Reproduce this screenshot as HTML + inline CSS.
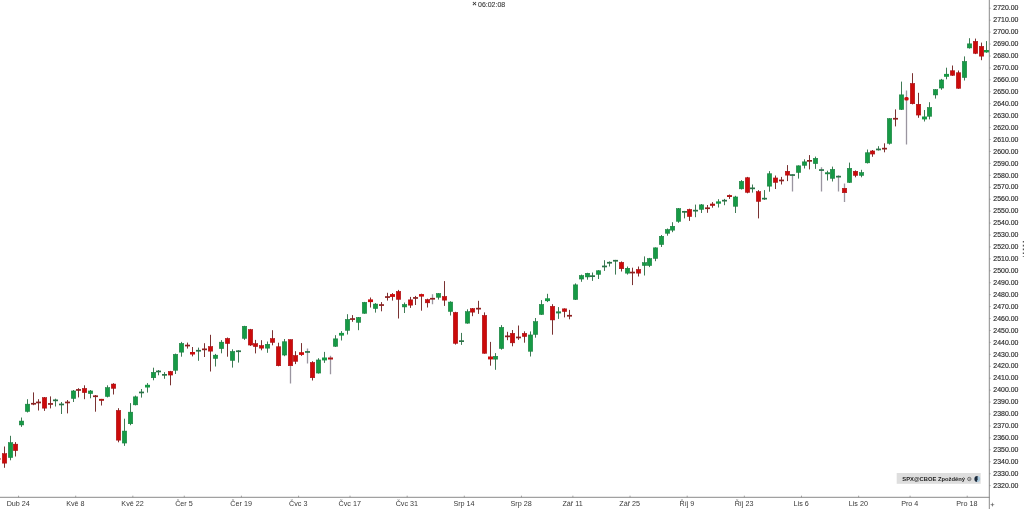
<!DOCTYPE html>
<html><head><meta charset="utf-8"><title>SPX</title>
<style>
html,body{margin:0;padding:0;background:#fff;}
body{width:1024px;height:509px;overflow:hidden;position:relative;font-family:"Liberation Sans",sans-serif;}
svg{position:absolute;left:0;top:0;display:block}
text{font-family:"Liberation Sans",sans-serif;}
.yl{font-size:7.6px;fill:#2e2e2e;stroke:#2e2e2e;stroke-width:0.18px}
.xl{font-size:7.2px;fill:#383838;text-anchor:middle}
</style></head><body>
<svg width="1024" height="509" viewBox="0 0 1024 509">
<rect width="1024" height="509" fill="#fff"/>

<g clip-path="url(#cp)">
<clipPath id="cp"><rect x="0" y="0" width="989.3" height="497.3"/></clipPath>
<line x1="4.50" y1="446.5" x2="4.50" y2="467.8" stroke="#7a3232" stroke-width="1.0"/>
<rect x="2.25" y="453.65" width="4.5" height="9.50" fill="#cc0a0a" stroke="#a30a10" stroke-width="0.5"/>
<line x1="10.50" y1="435.8" x2="10.50" y2="460.3" stroke="#3f7a55" stroke-width="1.0"/>
<rect x="8.25" y="442.65" width="4.5" height="14.90" fill="#169a45" stroke="#167a3c" stroke-width="0.5"/>
<line x1="15.50" y1="442.1" x2="15.50" y2="456.5" stroke="#7a3232" stroke-width="1.0"/>
<rect x="13.25" y="444.15" width="4.5" height="6.50" fill="#cc0a0a" stroke="#a30a10" stroke-width="0.5"/>
<line x1="21.50" y1="417.5" x2="21.50" y2="426.9" stroke="#3f7a55" stroke-width="1.0"/>
<rect x="19.25" y="421.05" width="4.5" height="3.90" fill="#169a45" stroke="#167a3c" stroke-width="0.5"/>
<line x1="27.50" y1="399.2" x2="27.50" y2="412.5" stroke="#3f7a55" stroke-width="1.0"/>
<rect x="25.25" y="404.15" width="4.5" height="7.30" fill="#169a45" stroke="#167a3c" stroke-width="0.5"/>
<line x1="33.50" y1="392.4" x2="33.50" y2="405.2" stroke="#7a3232" stroke-width="1.0"/>
<rect x="31.00" y="402.9" width="5.0" height="1.7" fill="#8e2020"/>
<line x1="38.50" y1="399.2" x2="38.50" y2="410.5" stroke="#7a3232" stroke-width="1.0"/>
<rect x="36.00" y="401.6" width="5.0" height="1.7" fill="#8e2020"/>
<line x1="44.50" y1="397.0" x2="44.50" y2="410.9" stroke="#7a3232" stroke-width="1.0"/>
<rect x="42.25" y="397.65" width="4.5" height="10.50" fill="#cc0a0a" stroke="#a30a10" stroke-width="0.5"/>
<line x1="50.50" y1="396.4" x2="50.50" y2="408.4" stroke="#7a3232" stroke-width="1.0"/>
<rect x="48.00" y="403.1" width="5.0" height="1.7" fill="#8e2020"/>
<line x1="55.50" y1="398.7" x2="55.50" y2="406.5" stroke="#3f7a55" stroke-width="1.0"/>
<rect x="53.00" y="399.5" width="5.0" height="1.7" fill="#2a7347"/>
<line x1="61.50" y1="402.0" x2="61.50" y2="414.0" stroke="#3f7a55" stroke-width="1.0"/>
<rect x="59.00" y="403.6" width="5.0" height="1.7" fill="#2a7347"/>
<line x1="67.50" y1="400.0" x2="67.50" y2="413.4" stroke="#7a3232" stroke-width="1.0"/>
<rect x="65.00" y="401.6" width="5.0" height="1.7" fill="#8e2020"/>
<line x1="73.50" y1="390.0" x2="73.50" y2="402.0" stroke="#3f7a55" stroke-width="1.0"/>
<rect x="71.25" y="390.95" width="4.5" height="7.50" fill="#169a45" stroke="#167a3c" stroke-width="0.5"/>
<line x1="78.50" y1="388.2" x2="78.50" y2="397.4" stroke="#7a3232" stroke-width="1.0"/>
<rect x="76.00" y="389.1" width="5.0" height="1.7" fill="#8e2020"/>
<line x1="84.50" y1="385.3" x2="84.50" y2="399.2" stroke="#7a3232" stroke-width="1.0"/>
<rect x="82.25" y="388.45" width="4.5" height="4.20" fill="#cc0a0a" stroke="#a30a10" stroke-width="0.5"/>
<line x1="90.50" y1="390.0" x2="90.50" y2="398.3" stroke="#3f7a55" stroke-width="1.0"/>
<rect x="88.25" y="390.95" width="4.5" height="2.70" fill="#169a45" stroke="#167a3c" stroke-width="0.5"/>
<line x1="95.50" y1="395.0" x2="95.50" y2="411.7" stroke="#7a3232" stroke-width="1.0"/>
<rect x="93.00" y="395.4" width="5.0" height="1.7" fill="#8e2020"/>
<line x1="101.50" y1="398.9" x2="101.50" y2="405.5" stroke="#7a3232" stroke-width="1.0"/>
<rect x="99.00" y="398.9" width="5.0" height="1.9" fill="#b01414"/>
<line x1="107.50" y1="385.3" x2="107.50" y2="397.4" stroke="#3f7a55" stroke-width="1.0"/>
<rect x="105.25" y="387.65" width="4.5" height="8.80" fill="#169a45" stroke="#167a3c" stroke-width="0.5"/>
<line x1="113.50" y1="383.2" x2="113.50" y2="394.5" stroke="#7a3232" stroke-width="1.0"/>
<rect x="111.25" y="384.05" width="4.5" height="4.30" fill="#cc0a0a" stroke="#a30a10" stroke-width="0.5"/>
<line x1="118.50" y1="408.2" x2="118.50" y2="442.3" stroke="#7a3232" stroke-width="1.0"/>
<rect x="116.25" y="410.45" width="4.5" height="29.70" fill="#cc0a0a" stroke="#a30a10" stroke-width="0.5"/>
<line x1="124.50" y1="418.7" x2="124.50" y2="445.9" stroke="#3f7a55" stroke-width="1.0"/>
<rect x="122.25" y="431.05" width="4.5" height="12.00" fill="#169a45" stroke="#167a3c" stroke-width="0.5"/>
<line x1="130.50" y1="403.1" x2="130.50" y2="425.2" stroke="#3f7a55" stroke-width="1.0"/>
<rect x="128.25" y="412.15" width="4.5" height="11.60" fill="#169a45" stroke="#167a3c" stroke-width="0.5"/>
<line x1="135.50" y1="395.6" x2="135.50" y2="405.4" stroke="#3f7a55" stroke-width="1.0"/>
<rect x="133.25" y="396.85" width="4.5" height="8.00" fill="#169a45" stroke="#167a3c" stroke-width="0.5"/>
<line x1="141.50" y1="389.0" x2="141.50" y2="397.6" stroke="#3f7a55" stroke-width="1.0"/>
<rect x="139.00" y="391.6" width="5.0" height="1.7" fill="#2a7347"/>
<line x1="147.50" y1="383.1" x2="147.50" y2="392.6" stroke="#3f7a55" stroke-width="1.0"/>
<rect x="145.00" y="384.8" width="5.0" height="2.7" fill="#169a45"/>
<line x1="153.50" y1="367.7" x2="153.50" y2="380.3" stroke="#3f7a55" stroke-width="1.0"/>
<rect x="151.25" y="372.35" width="4.5" height="5.40" fill="#169a45" stroke="#167a3c" stroke-width="0.5"/>
<line x1="158.50" y1="370.0" x2="158.50" y2="375.3" stroke="#3f7a55" stroke-width="1.0"/>
<rect x="156.00" y="370.6" width="5.0" height="1.7" fill="#2a7347"/>
<line x1="164.50" y1="372.1" x2="164.50" y2="378.8" stroke="#3f7a55" stroke-width="1.0"/>
<rect x="162.00" y="374.0" width="5.0" height="1.7" fill="#2a7347"/>
<line x1="170.50" y1="370.9" x2="170.50" y2="385.3" stroke="#7a3232" stroke-width="1.0"/>
<rect x="168.25" y="371.45" width="4.5" height="3.60" fill="#cc0a0a" stroke="#a30a10" stroke-width="0.5"/>
<line x1="175.50" y1="353.6" x2="175.50" y2="374.0" stroke="#3f7a55" stroke-width="1.0"/>
<rect x="173.25" y="354.35" width="4.5" height="15.90" fill="#169a45" stroke="#167a3c" stroke-width="0.5"/>
<line x1="181.50" y1="341.9" x2="181.50" y2="356.7" stroke="#3f7a55" stroke-width="1.0"/>
<rect x="179.25" y="343.45" width="4.5" height="8.70" fill="#169a45" stroke="#167a3c" stroke-width="0.5"/>
<line x1="187.50" y1="342.6" x2="187.50" y2="348.6" stroke="#7a3232" stroke-width="1.0"/>
<rect x="185.00" y="344.7" width="5.0" height="1.7" fill="#8e2020"/>
<line x1="192.50" y1="347.0" x2="192.50" y2="356.4" stroke="#7a3232" stroke-width="1.0"/>
<rect x="190.00" y="352.0" width="5.0" height="2.5" fill="#cc0a0a"/>
<line x1="198.50" y1="347.6" x2="198.50" y2="360.8" stroke="#3f7a55" stroke-width="1.0"/>
<rect x="196.00" y="349.9" width="5.0" height="1.7" fill="#2a7347"/>
<line x1="204.50" y1="343.2" x2="204.50" y2="357.0" stroke="#7a3232" stroke-width="1.0"/>
<rect x="202.00" y="348.5" width="5.0" height="1.7" fill="#8e2020"/>
<line x1="210.50" y1="334.8" x2="210.50" y2="371.5" stroke="#7a3232" stroke-width="1.0"/>
<rect x="208.25" y="346.55" width="4.5" height="4.60" fill="#cc0a0a" stroke="#a30a10" stroke-width="0.5"/>
<line x1="215.50" y1="353.9" x2="215.50" y2="366.5" stroke="#3f7a55" stroke-width="1.0"/>
<rect x="213.25" y="355.15" width="4.5" height="3.30" fill="#169a45" stroke="#167a3c" stroke-width="0.5"/>
<line x1="221.50" y1="340.1" x2="221.50" y2="353.3" stroke="#3f7a55" stroke-width="1.0"/>
<rect x="219.25" y="342.15" width="4.5" height="6.50" fill="#169a45" stroke="#167a3c" stroke-width="0.5"/>
<line x1="227.50" y1="337.5" x2="227.50" y2="356.7" stroke="#7a3232" stroke-width="1.0"/>
<rect x="225.25" y="338.45" width="4.5" height="5.10" fill="#cc0a0a" stroke="#a30a10" stroke-width="0.5"/>
<line x1="232.50" y1="349.3" x2="232.50" y2="367.6" stroke="#3f7a55" stroke-width="1.0"/>
<rect x="230.25" y="351.45" width="4.5" height="9.00" fill="#169a45" stroke="#167a3c" stroke-width="0.5"/>
<line x1="238.50" y1="350.2" x2="238.50" y2="362.6" stroke="#3f7a55" stroke-width="1.0"/>
<rect x="236.00" y="350.4" width="5.0" height="1.7" fill="#2a7347"/>
<line x1="244.50" y1="325.8" x2="244.50" y2="339.9" stroke="#3f7a55" stroke-width="1.0"/>
<rect x="242.25" y="326.25" width="4.5" height="12.10" fill="#169a45" stroke="#167a3c" stroke-width="0.5"/>
<line x1="250.50" y1="328.9" x2="250.50" y2="345.9" stroke="#7a3232" stroke-width="1.0"/>
<rect x="248.25" y="329.55" width="4.5" height="15.50" fill="#cc0a0a" stroke="#a30a10" stroke-width="0.5"/>
<line x1="255.50" y1="339.9" x2="255.50" y2="353.4" stroke="#7a3232" stroke-width="1.0"/>
<rect x="253.25" y="343.65" width="4.5" height="3.00" fill="#cc0a0a" stroke="#a30a10" stroke-width="0.5"/>
<line x1="261.50" y1="340.2" x2="261.50" y2="350.3" stroke="#7a3232" stroke-width="1.0"/>
<rect x="259.25" y="345.55" width="4.5" height="2.60" fill="#cc0a0a" stroke="#a30a10" stroke-width="0.5"/>
<line x1="267.50" y1="341.5" x2="267.50" y2="352.8" stroke="#3f7a55" stroke-width="1.0"/>
<rect x="265.25" y="344.25" width="4.5" height="3.90" fill="#169a45" stroke="#167a3c" stroke-width="0.5"/>
<line x1="272.50" y1="330.2" x2="272.50" y2="345.3" stroke="#7a3232" stroke-width="1.0"/>
<rect x="270.25" y="338.55" width="4.5" height="3.90" fill="#cc0a0a" stroke="#a30a10" stroke-width="0.5"/>
<line x1="278.50" y1="342.7" x2="278.50" y2="366.3" stroke="#7a3232" stroke-width="1.0"/>
<rect x="276.25" y="346.75" width="4.5" height="19.00" fill="#cc0a0a" stroke="#a30a10" stroke-width="0.5"/>
<line x1="284.50" y1="339.0" x2="284.50" y2="356.2" stroke="#3f7a55" stroke-width="1.0"/>
<rect x="282.25" y="341.75" width="4.5" height="13.30" fill="#169a45" stroke="#167a3c" stroke-width="0.5"/>
<line x1="290.50" y1="339.0" x2="290.50" y2="383.6" stroke="#9a95a0" stroke-width="1.3"/>
<rect x="288.25" y="339.65" width="4.5" height="26.10" fill="#cc0a0a" stroke="#a30a10" stroke-width="0.5"/>
<line x1="295.50" y1="351.2" x2="295.50" y2="364.1" stroke="#7a3232" stroke-width="1.0"/>
<rect x="293.25" y="355.55" width="4.5" height="5.80" fill="#cc0a0a" stroke="#a30a10" stroke-width="0.5"/>
<line x1="301.50" y1="343.1" x2="301.50" y2="355.9" stroke="#7a3232" stroke-width="1.0"/>
<rect x="299.00" y="352.2" width="5.0" height="2.7" fill="#cc0a0a"/>
<line x1="307.50" y1="348.4" x2="307.50" y2="363.5" stroke="#9a95a0" stroke-width="1.3"/>
<rect x="305.00" y="351.1" width="5.0" height="1.7" fill="#2a7347"/>
<line x1="312.50" y1="361.2" x2="312.50" y2="380.5" stroke="#7a3232" stroke-width="1.0"/>
<rect x="310.25" y="362.45" width="4.5" height="15.30" fill="#cc0a0a" stroke="#a30a10" stroke-width="0.5"/>
<line x1="318.50" y1="358.2" x2="318.50" y2="373.6" stroke="#3f7a55" stroke-width="1.0"/>
<rect x="316.25" y="359.95" width="4.5" height="13.10" fill="#169a45" stroke="#167a3c" stroke-width="0.5"/>
<line x1="324.50" y1="351.9" x2="324.50" y2="362.9" stroke="#3f7a55" stroke-width="1.0"/>
<rect x="322.00" y="357.5" width="5.0" height="2.9" fill="#169a45"/>
<line x1="330.50" y1="355.7" x2="330.50" y2="374.2" stroke="#9a95a0" stroke-width="1.3"/>
<rect x="328.00" y="357.5" width="5.0" height="2.0" fill="#b01414"/>
<line x1="335.50" y1="335.2" x2="335.50" y2="346.9" stroke="#3f7a55" stroke-width="1.0"/>
<rect x="333.25" y="338.85" width="4.5" height="7.40" fill="#169a45" stroke="#167a3c" stroke-width="0.5"/>
<line x1="341.50" y1="331.1" x2="341.50" y2="340.5" stroke="#3f7a55" stroke-width="1.0"/>
<rect x="339.00" y="332.9" width="5.0" height="2.7" fill="#169a45"/>
<line x1="347.50" y1="314.2" x2="347.50" y2="334.5" stroke="#3f7a55" stroke-width="1.0"/>
<rect x="345.25" y="319.45" width="4.5" height="10.90" fill="#169a45" stroke="#167a3c" stroke-width="0.5"/>
<line x1="352.50" y1="315.1" x2="352.50" y2="321.8" stroke="#7a3232" stroke-width="1.0"/>
<rect x="350.00" y="318.2" width="5.0" height="1.7" fill="#8e2020"/>
<line x1="358.50" y1="317.0" x2="358.50" y2="330.2" stroke="#3f7a55" stroke-width="1.0"/>
<rect x="356.25" y="317.45" width="4.5" height="4.90" fill="#169a45" stroke="#167a3c" stroke-width="0.5"/>
<line x1="364.50" y1="301.9" x2="364.50" y2="313.8" stroke="#3f7a55" stroke-width="1.0"/>
<rect x="362.25" y="302.35" width="4.5" height="10.90" fill="#169a45" stroke="#167a3c" stroke-width="0.5"/>
<line x1="370.50" y1="297.5" x2="370.50" y2="307.5" stroke="#7a3232" stroke-width="1.0"/>
<rect x="368.00" y="299.4" width="5.0" height="2.7" fill="#cc0a0a"/>
<line x1="375.50" y1="303.1" x2="375.50" y2="312.6" stroke="#3f7a55" stroke-width="1.0"/>
<rect x="373.25" y="304.05" width="4.5" height="4.50" fill="#169a45" stroke="#167a3c" stroke-width="0.5"/>
<line x1="381.50" y1="302.1" x2="381.50" y2="311.3" stroke="#7a3232" stroke-width="1.0"/>
<rect x="379.00" y="304.2" width="5.0" height="1.7" fill="#8e2020"/>
<line x1="387.50" y1="292.8" x2="387.50" y2="300.6" stroke="#7a3232" stroke-width="1.0"/>
<rect x="385.00" y="296.2" width="5.0" height="1.7" fill="#8e2020"/>
<line x1="392.50" y1="293.1" x2="392.50" y2="300.6" stroke="#7a3232" stroke-width="1.0"/>
<rect x="390.00" y="294.1" width="5.0" height="2.8" fill="#cc0a0a"/>
<line x1="398.50" y1="289.9" x2="398.50" y2="318.5" stroke="#7a3232" stroke-width="1.0"/>
<rect x="396.25" y="291.45" width="4.5" height="7.90" fill="#cc0a0a" stroke="#a30a10" stroke-width="0.5"/>
<line x1="404.50" y1="302.5" x2="404.50" y2="313.0" stroke="#3f7a55" stroke-width="1.0"/>
<rect x="402.25" y="304.45" width="4.5" height="2.50" fill="#169a45" stroke="#167a3c" stroke-width="0.5"/>
<line x1="410.50" y1="296.9" x2="410.50" y2="307.9" stroke="#7a3232" stroke-width="1.0"/>
<rect x="408.25" y="299.85" width="4.5" height="5.30" fill="#cc0a0a" stroke="#a30a10" stroke-width="0.5"/>
<line x1="415.50" y1="295.9" x2="415.50" y2="305.0" stroke="#7a3232" stroke-width="1.0"/>
<rect x="413.00" y="297.1" width="5.0" height="1.7" fill="#8e2020"/>
<line x1="421.50" y1="293.7" x2="421.50" y2="310.7" stroke="#7a3232" stroke-width="1.0"/>
<rect x="419.00" y="294.1" width="5.0" height="2.5" fill="#cc0a0a"/>
<line x1="427.50" y1="298.7" x2="427.50" y2="307.5" stroke="#7a3232" stroke-width="1.0"/>
<rect x="425.25" y="299.65" width="4.5" height="3.20" fill="#cc0a0a" stroke="#a30a10" stroke-width="0.5"/>
<line x1="432.50" y1="294.3" x2="432.50" y2="304.2" stroke="#9a95a0" stroke-width="1.3"/>
<rect x="430.00" y="297.9" width="5.0" height="1.7" fill="#8e2020"/>
<line x1="438.50" y1="293.1" x2="438.50" y2="299.6" stroke="#3f7a55" stroke-width="1.0"/>
<rect x="436.25" y="293.55" width="4.5" height="3.70" fill="#169a45" stroke="#167a3c" stroke-width="0.5"/>
<line x1="444.50" y1="281.1" x2="444.50" y2="305.9" stroke="#7a3232" stroke-width="1.0"/>
<rect x="442.25" y="296.45" width="4.5" height="3.70" fill="#cc0a0a" stroke="#a30a10" stroke-width="0.5"/>
<line x1="450.50" y1="301.3" x2="450.50" y2="315.5" stroke="#3f7a55" stroke-width="1.0"/>
<rect x="448.25" y="302.05" width="4.5" height="9.40" fill="#169a45" stroke="#167a3c" stroke-width="0.5"/>
<line x1="455.50" y1="311.8" x2="455.50" y2="344.6" stroke="#7a3232" stroke-width="1.0"/>
<rect x="453.25" y="312.45" width="4.5" height="30.90" fill="#cc0a0a" stroke="#a30a10" stroke-width="0.5"/>
<line x1="461.50" y1="332.9" x2="461.50" y2="344.9" stroke="#3f7a55" stroke-width="1.0"/>
<rect x="459.00" y="340.3" width="5.0" height="1.7" fill="#2a7347"/>
<line x1="467.50" y1="309.3" x2="467.50" y2="323.7" stroke="#3f7a55" stroke-width="1.0"/>
<rect x="465.25" y="311.65" width="4.5" height="11.50" fill="#169a45" stroke="#167a3c" stroke-width="0.5"/>
<line x1="472.50" y1="308.0" x2="472.50" y2="316.2" stroke="#7a3232" stroke-width="1.0"/>
<rect x="470.25" y="308.65" width="4.5" height="3.50" fill="#cc0a0a" stroke="#a30a10" stroke-width="0.5"/>
<line x1="478.50" y1="300.8" x2="478.50" y2="313.9" stroke="#7a3232" stroke-width="1.0"/>
<rect x="476.00" y="307.8" width="5.0" height="1.7" fill="#8e2020"/>
<line x1="484.50" y1="312.4" x2="484.50" y2="353.7" stroke="#7a3232" stroke-width="1.0"/>
<rect x="482.25" y="315.45" width="4.5" height="37.80" fill="#cc0a0a" stroke="#a30a10" stroke-width="0.5"/>
<line x1="490.50" y1="341.9" x2="490.50" y2="365.7" stroke="#7a3232" stroke-width="1.0"/>
<rect x="488.00" y="356.5" width="5.0" height="2.9" fill="#cc0a0a"/>
<line x1="495.50" y1="353.1" x2="495.50" y2="369.8" stroke="#3f7a55" stroke-width="1.0"/>
<rect x="493.25" y="356.25" width="4.5" height="2.90" fill="#169a45" stroke="#167a3c" stroke-width="0.5"/>
<line x1="501.50" y1="325.1" x2="501.50" y2="349.7" stroke="#3f7a55" stroke-width="1.0"/>
<rect x="499.25" y="327.35" width="4.5" height="21.20" fill="#169a45" stroke="#167a3c" stroke-width="0.5"/>
<line x1="507.50" y1="331.8" x2="507.50" y2="340.2" stroke="#7a3232" stroke-width="1.0"/>
<rect x="505.00" y="335.5" width="5.0" height="1.7" fill="#8e2020"/>
<line x1="512.50" y1="330.0" x2="512.50" y2="346.3" stroke="#7a3232" stroke-width="1.0"/>
<rect x="510.25" y="333.35" width="4.5" height="9.50" fill="#cc0a0a" stroke="#a30a10" stroke-width="0.5"/>
<line x1="518.50" y1="325.5" x2="518.50" y2="339.9" stroke="#7a3232" stroke-width="1.0"/>
<rect x="516.00" y="336.6" width="5.0" height="1.7" fill="#8e2020"/>
<line x1="524.50" y1="331.3" x2="524.50" y2="342.7" stroke="#7a3232" stroke-width="1.0"/>
<rect x="522.25" y="333.35" width="4.5" height="3.20" fill="#cc0a0a" stroke="#a30a10" stroke-width="0.5"/>
<line x1="530.50" y1="331.4" x2="530.50" y2="356.5" stroke="#3f7a55" stroke-width="1.0"/>
<rect x="528.25" y="334.95" width="4.5" height="16.30" fill="#169a45" stroke="#167a3c" stroke-width="0.5"/>
<line x1="535.50" y1="318.0" x2="535.50" y2="337.7" stroke="#3f7a55" stroke-width="1.0"/>
<rect x="533.25" y="321.65" width="4.5" height="12.80" fill="#169a45" stroke="#167a3c" stroke-width="0.5"/>
<line x1="541.50" y1="300.1" x2="541.50" y2="314.9" stroke="#3f7a55" stroke-width="1.0"/>
<rect x="539.25" y="304.45" width="4.5" height="10.00" fill="#169a45" stroke="#167a3c" stroke-width="0.5"/>
<line x1="547.50" y1="293.8" x2="547.50" y2="302.1" stroke="#3f7a55" stroke-width="1.0"/>
<rect x="545.00" y="298.3" width="5.0" height="2.8" fill="#169a45"/>
<line x1="552.50" y1="304.2" x2="552.50" y2="334.7" stroke="#7a3232" stroke-width="1.0"/>
<rect x="550.25" y="306.35" width="4.5" height="13.60" fill="#cc0a0a" stroke="#a30a10" stroke-width="0.5"/>
<line x1="558.50" y1="307.1" x2="558.50" y2="318.9" stroke="#3f7a55" stroke-width="1.0"/>
<rect x="556.00" y="311.4" width="5.0" height="2.0" fill="#238a48"/>
<line x1="564.50" y1="308.4" x2="564.50" y2="317.4" stroke="#7a3232" stroke-width="1.0"/>
<rect x="562.25" y="308.85" width="4.5" height="2.70" fill="#cc0a0a" stroke="#a30a10" stroke-width="0.5"/>
<line x1="569.50" y1="309.9" x2="569.50" y2="319.3" stroke="#7a3232" stroke-width="1.0"/>
<rect x="567.00" y="314.9" width="5.0" height="1.7" fill="#8e2020"/>
<line x1="575.50" y1="283.4" x2="575.50" y2="300.0" stroke="#3f7a55" stroke-width="1.0"/>
<rect x="573.25" y="284.85" width="4.5" height="14.60" fill="#169a45" stroke="#167a3c" stroke-width="0.5"/>
<line x1="581.50" y1="274.6" x2="581.50" y2="281.8" stroke="#3f7a55" stroke-width="1.0"/>
<rect x="579.25" y="275.55" width="4.5" height="3.50" fill="#169a45" stroke="#167a3c" stroke-width="0.5"/>
<line x1="587.50" y1="272.8" x2="587.50" y2="279.7" stroke="#3f7a55" stroke-width="1.0"/>
<rect x="585.25" y="273.25" width="4.5" height="3.70" fill="#169a45" stroke="#167a3c" stroke-width="0.5"/>
<line x1="592.50" y1="272.5" x2="592.50" y2="280.9" stroke="#3f7a55" stroke-width="1.0"/>
<rect x="590.00" y="275.3" width="5.0" height="1.7" fill="#2a7347"/>
<line x1="598.50" y1="270.2" x2="598.50" y2="279.0" stroke="#3f7a55" stroke-width="1.0"/>
<rect x="596.25" y="270.75" width="4.5" height="3.60" fill="#169a45" stroke="#167a3c" stroke-width="0.5"/>
<line x1="604.50" y1="260.2" x2="604.50" y2="270.9" stroke="#3f7a55" stroke-width="1.0"/>
<rect x="602.00" y="265.6" width="5.0" height="1.7" fill="#2a7347"/>
<line x1="609.50" y1="261.4" x2="609.50" y2="266.5" stroke="#3f7a55" stroke-width="1.0"/>
<rect x="607.00" y="261.9" width="5.0" height="1.7" fill="#2a7347"/>
<line x1="615.50" y1="259.9" x2="615.50" y2="274.6" stroke="#3f7a55" stroke-width="1.0"/>
<rect x="613.00" y="259.9" width="5.0" height="1.7" fill="#2a7347"/>
<line x1="621.50" y1="261.4" x2="621.50" y2="271.5" stroke="#7a3232" stroke-width="1.0"/>
<rect x="619.25" y="262.35" width="4.5" height="6.40" fill="#cc0a0a" stroke="#a30a10" stroke-width="0.5"/>
<line x1="627.50" y1="266.5" x2="627.50" y2="274.6" stroke="#3f7a55" stroke-width="1.0"/>
<rect x="625.25" y="268.25" width="4.5" height="4.90" fill="#169a45" stroke="#167a3c" stroke-width="0.5"/>
<line x1="632.50" y1="267.7" x2="632.50" y2="285.1" stroke="#7a3232" stroke-width="1.0"/>
<rect x="630.00" y="271.7" width="5.0" height="1.7" fill="#8e2020"/>
<line x1="638.50" y1="266.5" x2="638.50" y2="276.5" stroke="#7a3232" stroke-width="1.0"/>
<rect x="636.25" y="269.45" width="4.5" height="3.70" fill="#cc0a0a" stroke="#a30a10" stroke-width="0.5"/>
<line x1="644.50" y1="256.4" x2="644.50" y2="275.5" stroke="#3f7a55" stroke-width="1.0"/>
<rect x="642.25" y="262.65" width="4.5" height="2.90" fill="#169a45" stroke="#167a3c" stroke-width="0.5"/>
<line x1="649.50" y1="257.9" x2="649.50" y2="267.1" stroke="#3f7a55" stroke-width="1.0"/>
<rect x="647.25" y="258.55" width="4.5" height="7.00" fill="#169a45" stroke="#167a3c" stroke-width="0.5"/>
<line x1="655.50" y1="247.4" x2="655.50" y2="261.2" stroke="#3f7a55" stroke-width="1.0"/>
<rect x="653.25" y="247.85" width="4.5" height="10.60" fill="#169a45" stroke="#167a3c" stroke-width="0.5"/>
<line x1="661.50" y1="235.0" x2="661.50" y2="247.0" stroke="#3f7a55" stroke-width="1.0"/>
<rect x="659.25" y="236.25" width="4.5" height="8.30" fill="#169a45" stroke="#167a3c" stroke-width="0.5"/>
<line x1="667.50" y1="228.5" x2="667.50" y2="235.7" stroke="#3f7a55" stroke-width="1.0"/>
<rect x="665.25" y="229.55" width="4.5" height="3.70" fill="#169a45" stroke="#167a3c" stroke-width="0.5"/>
<line x1="672.50" y1="222.2" x2="672.50" y2="232.2" stroke="#3f7a55" stroke-width="1.0"/>
<rect x="670.25" y="226.25" width="4.5" height="3.90" fill="#169a45" stroke="#167a3c" stroke-width="0.5"/>
<line x1="678.50" y1="208.0" x2="678.50" y2="222.8" stroke="#3f7a55" stroke-width="1.0"/>
<rect x="676.25" y="208.65" width="4.5" height="12.70" fill="#169a45" stroke="#167a3c" stroke-width="0.5"/>
<line x1="684.50" y1="210.9" x2="684.50" y2="218.4" stroke="#3f7a55" stroke-width="1.0"/>
<rect x="682.00" y="211.0" width="5.0" height="1.7" fill="#2a7347"/>
<line x1="689.50" y1="208.7" x2="689.50" y2="220.9" stroke="#7a3232" stroke-width="1.0"/>
<rect x="687.25" y="209.45" width="4.5" height="7.10" fill="#cc0a0a" stroke="#a30a10" stroke-width="0.5"/>
<line x1="695.50" y1="204.6" x2="695.50" y2="217.2" stroke="#3f7a55" stroke-width="1.0"/>
<rect x="693.00" y="209.8" width="5.0" height="1.7" fill="#2a7347"/>
<line x1="701.50" y1="204.0" x2="701.50" y2="213.0" stroke="#3f7a55" stroke-width="1.0"/>
<rect x="699.25" y="204.85" width="4.5" height="4.50" fill="#169a45" stroke="#167a3c" stroke-width="0.5"/>
<line x1="707.50" y1="205.0" x2="707.50" y2="212.8" stroke="#7a3232" stroke-width="1.0"/>
<rect x="705.00" y="207.4" width="5.0" height="1.7" fill="#8e2020"/>
<line x1="712.50" y1="202.1" x2="712.50" y2="207.7" stroke="#7a3232" stroke-width="1.0"/>
<rect x="710.00" y="203.7" width="5.0" height="2.1" fill="#b01414"/>
<line x1="718.50" y1="199.2" x2="718.50" y2="207.5" stroke="#3f7a55" stroke-width="1.0"/>
<rect x="716.00" y="201.4" width="5.0" height="2.3" fill="#169a45"/>
<line x1="724.50" y1="198.9" x2="724.50" y2="205.2" stroke="#3f7a55" stroke-width="1.0"/>
<rect x="722.00" y="199.8" width="5.0" height="1.7" fill="#2a7347"/>
<line x1="729.50" y1="194.5" x2="729.50" y2="198.9" stroke="#7a3232" stroke-width="1.0"/>
<rect x="727.00" y="195.1" width="5.0" height="1.9" fill="#b01414"/>
<line x1="735.50" y1="195.8" x2="735.50" y2="213.0" stroke="#3f7a55" stroke-width="1.0"/>
<rect x="733.25" y="196.95" width="4.5" height="9.30" fill="#169a45" stroke="#167a3c" stroke-width="0.5"/>
<line x1="741.50" y1="180.1" x2="741.50" y2="189.5" stroke="#3f7a55" stroke-width="1.0"/>
<rect x="739.25" y="181.35" width="4.5" height="7.50" fill="#169a45" stroke="#167a3c" stroke-width="0.5"/>
<line x1="747.50" y1="176.9" x2="747.50" y2="193.3" stroke="#7a3232" stroke-width="1.0"/>
<rect x="745.25" y="177.75" width="4.5" height="14.60" fill="#cc0a0a" stroke="#a30a10" stroke-width="0.5"/>
<line x1="752.50" y1="184.5" x2="752.50" y2="192.6" stroke="#3f7a55" stroke-width="1.0"/>
<rect x="750.00" y="187.5" width="5.0" height="1.7" fill="#2a7347"/>
<line x1="758.50" y1="190.1" x2="758.50" y2="218.4" stroke="#7a3232" stroke-width="1.0"/>
<rect x="756.25" y="191.65" width="4.5" height="9.80" fill="#cc0a0a" stroke="#a30a10" stroke-width="0.5"/>
<line x1="764.50" y1="190.1" x2="764.50" y2="199.9" stroke="#3f7a55" stroke-width="1.0"/>
<rect x="762.00" y="197.8" width="5.0" height="1.7" fill="#2a7347"/>
<line x1="769.50" y1="171.1" x2="769.50" y2="191.7" stroke="#3f7a55" stroke-width="1.0"/>
<rect x="767.25" y="173.75" width="4.5" height="12.40" fill="#169a45" stroke="#167a3c" stroke-width="0.5"/>
<line x1="775.50" y1="175.5" x2="775.50" y2="189.0" stroke="#7a3232" stroke-width="1.0"/>
<rect x="773.25" y="177.95" width="4.5" height="4.50" fill="#cc0a0a" stroke="#a30a10" stroke-width="0.5"/>
<line x1="781.50" y1="176.9" x2="781.50" y2="184.5" stroke="#7a3232" stroke-width="1.0"/>
<rect x="779.00" y="179.6" width="5.0" height="1.7" fill="#8e2020"/>
<line x1="787.50" y1="165.1" x2="787.50" y2="181.1" stroke="#7a3232" stroke-width="1.0"/>
<rect x="785.25" y="171.25" width="4.5" height="3.90" fill="#cc0a0a" stroke="#a30a10" stroke-width="0.5"/>
<line x1="792.50" y1="173.9" x2="792.50" y2="191.5" stroke="#9a95a0" stroke-width="1.3"/>
<rect x="790.00" y="174.2" width="5.0" height="1.7" fill="#2a7347"/>
<line x1="798.50" y1="165.4" x2="798.50" y2="178.6" stroke="#3f7a55" stroke-width="1.0"/>
<rect x="796.25" y="165.85" width="4.5" height="6.60" fill="#169a45" stroke="#167a3c" stroke-width="0.5"/>
<line x1="804.50" y1="159.3" x2="804.50" y2="168.5" stroke="#3f7a55" stroke-width="1.0"/>
<rect x="802.25" y="161.85" width="4.5" height="3.50" fill="#169a45" stroke="#167a3c" stroke-width="0.5"/>
<line x1="809.50" y1="155.1" x2="809.50" y2="169.4" stroke="#7a3232" stroke-width="1.0"/>
<rect x="807.00" y="160.0" width="5.0" height="1.7" fill="#8e2020"/>
<line x1="815.50" y1="156.6" x2="815.50" y2="168.9" stroke="#3f7a55" stroke-width="1.0"/>
<rect x="813.25" y="158.35" width="4.5" height="5.30" fill="#169a45" stroke="#167a3c" stroke-width="0.5"/>
<line x1="821.50" y1="167.3" x2="821.50" y2="191.5" stroke="#9a95a0" stroke-width="1.3"/>
<rect x="819.00" y="169.2" width="5.0" height="1.7" fill="#2a7347"/>
<line x1="827.50" y1="170.7" x2="827.50" y2="180.5" stroke="#3f7a55" stroke-width="1.0"/>
<rect x="825.00" y="172.3" width="5.0" height="1.9" fill="#238a48"/>
<line x1="832.50" y1="166.6" x2="832.50" y2="181.5" stroke="#3f7a55" stroke-width="1.0"/>
<rect x="830.25" y="169.35" width="4.5" height="9.00" fill="#169a45" stroke="#167a3c" stroke-width="0.5"/>
<line x1="838.50" y1="175.2" x2="838.50" y2="191.5" stroke="#9a95a0" stroke-width="1.3"/>
<rect x="836.00" y="175.8" width="5.0" height="1.7" fill="#2a7347"/>
<line x1="844.50" y1="183.6" x2="844.50" y2="202.1" stroke="#9a95a0" stroke-width="1.3"/>
<rect x="842.25" y="188.25" width="4.5" height="4.50" fill="#cc0a0a" stroke="#a30a10" stroke-width="0.5"/>
<line x1="849.50" y1="162.6" x2="849.50" y2="183.0" stroke="#3f7a55" stroke-width="1.0"/>
<rect x="847.25" y="168.35" width="4.5" height="14.10" fill="#169a45" stroke="#167a3c" stroke-width="0.5"/>
<line x1="855.50" y1="170.4" x2="855.50" y2="177.3" stroke="#7a3232" stroke-width="1.0"/>
<rect x="853.25" y="171.25" width="4.5" height="4.20" fill="#cc0a0a" stroke="#a30a10" stroke-width="0.5"/>
<line x1="861.50" y1="169.8" x2="861.50" y2="177.3" stroke="#3f7a55" stroke-width="1.0"/>
<rect x="859.25" y="172.55" width="4.5" height="2.90" fill="#169a45" stroke="#167a3c" stroke-width="0.5"/>
<line x1="867.50" y1="149.5" x2="867.50" y2="163.5" stroke="#3f7a55" stroke-width="1.0"/>
<rect x="865.25" y="152.75" width="4.5" height="10.10" fill="#169a45" stroke="#167a3c" stroke-width="0.5"/>
<line x1="872.50" y1="150.0" x2="872.50" y2="156.8" stroke="#7a3232" stroke-width="1.0"/>
<rect x="870.25" y="150.95" width="4.5" height="3.10" fill="#cc0a0a" stroke="#a30a10" stroke-width="0.5"/>
<line x1="878.50" y1="146.2" x2="878.50" y2="150.5" stroke="#3f7a55" stroke-width="1.0"/>
<rect x="876.00" y="148.6" width="5.0" height="1.7" fill="#2a7347"/>
<line x1="884.50" y1="143.3" x2="884.50" y2="152.3" stroke="#7a3232" stroke-width="1.0"/>
<rect x="882.00" y="147.8" width="5.0" height="1.7" fill="#8e2020"/>
<line x1="889.50" y1="118.2" x2="889.50" y2="144.6" stroke="#3f7a55" stroke-width="1.0"/>
<rect x="887.25" y="118.65" width="4.5" height="24.70" fill="#169a45" stroke="#167a3c" stroke-width="0.5"/>
<line x1="895.50" y1="109.4" x2="895.50" y2="126.4" stroke="#7a3232" stroke-width="1.0"/>
<rect x="893.00" y="117.9" width="5.0" height="1.7" fill="#8e2020"/>
<line x1="901.50" y1="81.6" x2="901.50" y2="110.0" stroke="#3f7a55" stroke-width="1.0"/>
<rect x="899.25" y="94.85" width="4.5" height="14.60" fill="#169a45" stroke="#167a3c" stroke-width="0.5"/>
<line x1="906.50" y1="90.4" x2="906.50" y2="144.6" stroke="#9a95a0" stroke-width="1.3"/>
<rect x="904.30" y="97.1" width="4.4" height="3.4" rx="1.5" fill="#cc0a0a"/>
<line x1="912.50" y1="73.2" x2="912.50" y2="104.4" stroke="#7a3232" stroke-width="1.0"/>
<rect x="910.25" y="83.45" width="4.5" height="20.30" fill="#cc0a0a" stroke="#a30a10" stroke-width="0.5"/>
<line x1="918.50" y1="92.8" x2="918.50" y2="117.8" stroke="#7a3232" stroke-width="1.0"/>
<rect x="916.25" y="104.25" width="4.5" height="10.80" fill="#cc0a0a" stroke="#a30a10" stroke-width="0.5"/>
<line x1="924.50" y1="110.0" x2="924.50" y2="121.5" stroke="#3f7a55" stroke-width="1.0"/>
<rect x="922.00" y="116.5" width="5.0" height="2.9" fill="#169a45"/>
<line x1="929.50" y1="102.2" x2="929.50" y2="119.4" stroke="#3f7a55" stroke-width="1.0"/>
<rect x="927.25" y="107.55" width="4.5" height="8.70" fill="#169a45" stroke="#167a3c" stroke-width="0.5"/>
<line x1="935.50" y1="89.1" x2="935.50" y2="98.6" stroke="#3f7a55" stroke-width="1.0"/>
<rect x="933.25" y="89.65" width="4.5" height="5.30" fill="#169a45" stroke="#167a3c" stroke-width="0.5"/>
<line x1="941.50" y1="78.9" x2="941.50" y2="89.8" stroke="#3f7a55" stroke-width="1.0"/>
<rect x="939.25" y="79.95" width="4.5" height="8.10" fill="#169a45" stroke="#167a3c" stroke-width="0.5"/>
<line x1="946.50" y1="67.7" x2="946.50" y2="79.3" stroke="#3f7a55" stroke-width="1.0"/>
<rect x="944.00" y="73.9" width="5.0" height="2.9" fill="#169a45"/>
<line x1="952.50" y1="65.5" x2="952.50" y2="75.9" stroke="#7a3232" stroke-width="1.0"/>
<rect x="950.25" y="70.75" width="4.5" height="4.50" fill="#cc0a0a" stroke="#a30a10" stroke-width="0.5"/>
<line x1="958.50" y1="70.5" x2="958.50" y2="88.8" stroke="#7a3232" stroke-width="1.0"/>
<rect x="956.25" y="72.75" width="4.5" height="15.50" fill="#cc0a0a" stroke="#a30a10" stroke-width="0.5"/>
<line x1="964.50" y1="56.4" x2="964.50" y2="80.5" stroke="#3f7a55" stroke-width="1.0"/>
<rect x="962.25" y="61.45" width="4.5" height="16.10" fill="#169a45" stroke="#167a3c" stroke-width="0.5"/>
<line x1="969.50" y1="38.2" x2="969.50" y2="48.6" stroke="#3f7a55" stroke-width="1.0"/>
<rect x="967.25" y="43.85" width="4.5" height="4.10" fill="#169a45" stroke="#167a3c" stroke-width="0.5"/>
<line x1="975.50" y1="38.6" x2="975.50" y2="54.1" stroke="#7a3232" stroke-width="1.0"/>
<rect x="973.25" y="41.35" width="4.5" height="12.00" fill="#cc0a0a" stroke="#a30a10" stroke-width="0.5"/>
<line x1="981.50" y1="42.6" x2="981.50" y2="60.2" stroke="#7a3232" stroke-width="1.0"/>
<rect x="979.25" y="46.35" width="4.5" height="9.80" fill="#cc0a0a" stroke="#a30a10" stroke-width="0.5"/>
<line x1="986.50" y1="41.1" x2="986.50" y2="52.8" stroke="#3f7a55" stroke-width="1.0"/>
<rect x="984.00" y="50.0" width="5.0" height="2.4" fill="#169a45"/>
<rect x="0" y="458.3" width="0.9" height="1.3" fill="#c44"/>
</g>
<line x1="0" y1="497.3" x2="989.8" y2="497.3" stroke="#8a8a8a" stroke-width="1"/>
<line x1="989.3" y1="0" x2="989.3" y2="509" stroke="#8a8a8a" stroke-width="1"/>
<line x1="989.3" y1="8.25" x2="990.6" y2="8.25" stroke="#8a8a8a" stroke-width="0.8"/>
<text class="yl" x="993.3" y="10.45" textLength="25.1" lengthAdjust="spacingAndGlyphs">2720.00</text>
<line x1="989.3" y1="20.18" x2="990.6" y2="20.18" stroke="#8a8a8a" stroke-width="0.8"/>
<text class="yl" x="993.3" y="22.38" textLength="25.1" lengthAdjust="spacingAndGlyphs">2710.00</text>
<line x1="989.3" y1="32.12" x2="990.6" y2="32.12" stroke="#8a8a8a" stroke-width="0.8"/>
<text class="yl" x="993.3" y="34.32" textLength="25.1" lengthAdjust="spacingAndGlyphs">2700.00</text>
<line x1="989.3" y1="44.05" x2="990.6" y2="44.05" stroke="#8a8a8a" stroke-width="0.8"/>
<text class="yl" x="993.3" y="46.25" textLength="25.1" lengthAdjust="spacingAndGlyphs">2690.00</text>
<line x1="989.3" y1="55.99" x2="990.6" y2="55.99" stroke="#8a8a8a" stroke-width="0.8"/>
<text class="yl" x="993.3" y="58.19" textLength="25.1" lengthAdjust="spacingAndGlyphs">2680.00</text>
<line x1="989.3" y1="67.92" x2="990.6" y2="67.92" stroke="#8a8a8a" stroke-width="0.8"/>
<text class="yl" x="993.3" y="70.12" textLength="25.1" lengthAdjust="spacingAndGlyphs">2670.00</text>
<line x1="989.3" y1="79.85" x2="990.6" y2="79.85" stroke="#8a8a8a" stroke-width="0.8"/>
<text class="yl" x="993.3" y="82.05" textLength="25.1" lengthAdjust="spacingAndGlyphs">2660.00</text>
<line x1="989.3" y1="91.79" x2="990.6" y2="91.79" stroke="#8a8a8a" stroke-width="0.8"/>
<text class="yl" x="993.3" y="93.99" textLength="25.1" lengthAdjust="spacingAndGlyphs">2650.00</text>
<line x1="989.3" y1="103.72" x2="990.6" y2="103.72" stroke="#8a8a8a" stroke-width="0.8"/>
<text class="yl" x="993.3" y="105.92" textLength="25.1" lengthAdjust="spacingAndGlyphs">2640.00</text>
<line x1="989.3" y1="115.66" x2="990.6" y2="115.66" stroke="#8a8a8a" stroke-width="0.8"/>
<text class="yl" x="993.3" y="117.86" textLength="25.1" lengthAdjust="spacingAndGlyphs">2630.00</text>
<line x1="989.3" y1="127.59" x2="990.6" y2="127.59" stroke="#8a8a8a" stroke-width="0.8"/>
<text class="yl" x="993.3" y="129.79" textLength="25.1" lengthAdjust="spacingAndGlyphs">2620.00</text>
<line x1="989.3" y1="139.52" x2="990.6" y2="139.52" stroke="#8a8a8a" stroke-width="0.8"/>
<text class="yl" x="993.3" y="141.72" textLength="25.1" lengthAdjust="spacingAndGlyphs">2610.00</text>
<line x1="989.3" y1="151.46" x2="990.6" y2="151.46" stroke="#8a8a8a" stroke-width="0.8"/>
<text class="yl" x="993.3" y="153.66" textLength="25.1" lengthAdjust="spacingAndGlyphs">2600.00</text>
<line x1="989.3" y1="163.39" x2="990.6" y2="163.39" stroke="#8a8a8a" stroke-width="0.8"/>
<text class="yl" x="993.3" y="165.59" textLength="25.1" lengthAdjust="spacingAndGlyphs">2590.00</text>
<line x1="989.3" y1="175.33" x2="990.6" y2="175.33" stroke="#8a8a8a" stroke-width="0.8"/>
<text class="yl" x="993.3" y="177.53" textLength="25.1" lengthAdjust="spacingAndGlyphs">2580.00</text>
<line x1="989.3" y1="187.26" x2="990.6" y2="187.26" stroke="#8a8a8a" stroke-width="0.8"/>
<text class="yl" x="993.3" y="189.46" textLength="25.1" lengthAdjust="spacingAndGlyphs">2570.00</text>
<line x1="989.3" y1="199.19" x2="990.6" y2="199.19" stroke="#8a8a8a" stroke-width="0.8"/>
<text class="yl" x="993.3" y="201.39" textLength="25.1" lengthAdjust="spacingAndGlyphs">2560.00</text>
<line x1="989.3" y1="211.13" x2="990.6" y2="211.13" stroke="#8a8a8a" stroke-width="0.8"/>
<text class="yl" x="993.3" y="213.33" textLength="25.1" lengthAdjust="spacingAndGlyphs">2550.00</text>
<line x1="989.3" y1="223.06" x2="990.6" y2="223.06" stroke="#8a8a8a" stroke-width="0.8"/>
<text class="yl" x="993.3" y="225.26" textLength="25.1" lengthAdjust="spacingAndGlyphs">2540.00</text>
<line x1="989.3" y1="235.00" x2="990.6" y2="235.00" stroke="#8a8a8a" stroke-width="0.8"/>
<text class="yl" x="993.3" y="237.20" textLength="25.1" lengthAdjust="spacingAndGlyphs">2530.00</text>
<line x1="989.3" y1="246.93" x2="990.6" y2="246.93" stroke="#8a8a8a" stroke-width="0.8"/>
<text class="yl" x="993.3" y="249.13" textLength="25.1" lengthAdjust="spacingAndGlyphs">2520.00</text>
<line x1="989.3" y1="258.86" x2="990.6" y2="258.86" stroke="#8a8a8a" stroke-width="0.8"/>
<text class="yl" x="993.3" y="261.06" textLength="25.1" lengthAdjust="spacingAndGlyphs">2510.00</text>
<line x1="989.3" y1="270.80" x2="990.6" y2="270.80" stroke="#8a8a8a" stroke-width="0.8"/>
<text class="yl" x="993.3" y="273.00" textLength="25.1" lengthAdjust="spacingAndGlyphs">2500.00</text>
<line x1="989.3" y1="282.73" x2="990.6" y2="282.73" stroke="#8a8a8a" stroke-width="0.8"/>
<text class="yl" x="993.3" y="284.93" textLength="25.1" lengthAdjust="spacingAndGlyphs">2490.00</text>
<line x1="989.3" y1="294.67" x2="990.6" y2="294.67" stroke="#8a8a8a" stroke-width="0.8"/>
<text class="yl" x="993.3" y="296.87" textLength="25.1" lengthAdjust="spacingAndGlyphs">2480.00</text>
<line x1="989.3" y1="306.60" x2="990.6" y2="306.60" stroke="#8a8a8a" stroke-width="0.8"/>
<text class="yl" x="993.3" y="308.80" textLength="25.1" lengthAdjust="spacingAndGlyphs">2470.00</text>
<line x1="989.3" y1="318.53" x2="990.6" y2="318.53" stroke="#8a8a8a" stroke-width="0.8"/>
<text class="yl" x="993.3" y="320.73" textLength="25.1" lengthAdjust="spacingAndGlyphs">2460.00</text>
<line x1="989.3" y1="330.47" x2="990.6" y2="330.47" stroke="#8a8a8a" stroke-width="0.8"/>
<text class="yl" x="993.3" y="332.67" textLength="25.1" lengthAdjust="spacingAndGlyphs">2450.00</text>
<line x1="989.3" y1="342.40" x2="990.6" y2="342.40" stroke="#8a8a8a" stroke-width="0.8"/>
<text class="yl" x="993.3" y="344.60" textLength="25.1" lengthAdjust="spacingAndGlyphs">2440.00</text>
<line x1="989.3" y1="354.34" x2="990.6" y2="354.34" stroke="#8a8a8a" stroke-width="0.8"/>
<text class="yl" x="993.3" y="356.54" textLength="25.1" lengthAdjust="spacingAndGlyphs">2430.00</text>
<line x1="989.3" y1="366.27" x2="990.6" y2="366.27" stroke="#8a8a8a" stroke-width="0.8"/>
<text class="yl" x="993.3" y="368.47" textLength="25.1" lengthAdjust="spacingAndGlyphs">2420.00</text>
<line x1="989.3" y1="378.20" x2="990.6" y2="378.20" stroke="#8a8a8a" stroke-width="0.8"/>
<text class="yl" x="993.3" y="380.40" textLength="25.1" lengthAdjust="spacingAndGlyphs">2410.00</text>
<line x1="989.3" y1="390.14" x2="990.6" y2="390.14" stroke="#8a8a8a" stroke-width="0.8"/>
<text class="yl" x="993.3" y="392.34" textLength="25.1" lengthAdjust="spacingAndGlyphs">2400.00</text>
<line x1="989.3" y1="402.07" x2="990.6" y2="402.07" stroke="#8a8a8a" stroke-width="0.8"/>
<text class="yl" x="993.3" y="404.27" textLength="25.1" lengthAdjust="spacingAndGlyphs">2390.00</text>
<line x1="989.3" y1="414.01" x2="990.6" y2="414.01" stroke="#8a8a8a" stroke-width="0.8"/>
<text class="yl" x="993.3" y="416.21" textLength="25.1" lengthAdjust="spacingAndGlyphs">2380.00</text>
<line x1="989.3" y1="425.94" x2="990.6" y2="425.94" stroke="#8a8a8a" stroke-width="0.8"/>
<text class="yl" x="993.3" y="428.14" textLength="25.1" lengthAdjust="spacingAndGlyphs">2370.00</text>
<line x1="989.3" y1="437.87" x2="990.6" y2="437.87" stroke="#8a8a8a" stroke-width="0.8"/>
<text class="yl" x="993.3" y="440.07" textLength="25.1" lengthAdjust="spacingAndGlyphs">2360.00</text>
<line x1="989.3" y1="449.81" x2="990.6" y2="449.81" stroke="#8a8a8a" stroke-width="0.8"/>
<text class="yl" x="993.3" y="452.01" textLength="25.1" lengthAdjust="spacingAndGlyphs">2350.00</text>
<line x1="989.3" y1="461.74" x2="990.6" y2="461.74" stroke="#8a8a8a" stroke-width="0.8"/>
<text class="yl" x="993.3" y="463.94" textLength="25.1" lengthAdjust="spacingAndGlyphs">2340.00</text>
<line x1="989.3" y1="473.68" x2="990.6" y2="473.68" stroke="#8a8a8a" stroke-width="0.8"/>
<text class="yl" x="993.3" y="475.88" textLength="25.1" lengthAdjust="spacingAndGlyphs">2330.00</text>
<line x1="989.3" y1="485.61" x2="990.6" y2="485.61" stroke="#8a8a8a" stroke-width="0.8"/>
<text class="yl" x="993.3" y="487.81" textLength="25.1" lengthAdjust="spacingAndGlyphs">2320.00</text>
<line x1="18.54" y1="495.7" x2="18.54" y2="497.3" stroke="#8a8a8a" stroke-width="0.8"/>
<text class="xl" x="18.24" y="506.4">Dub 24</text>
<line x1="75.69" y1="495.7" x2="75.69" y2="497.3" stroke="#8a8a8a" stroke-width="0.8"/>
<text class="xl" x="75.39" y="506.4">Kvě 8</text>
<line x1="132.84" y1="495.7" x2="132.84" y2="497.3" stroke="#8a8a8a" stroke-width="0.8"/>
<text class="xl" x="132.54" y="506.4">Kvě 22</text>
<line x1="184.27" y1="495.7" x2="184.27" y2="497.3" stroke="#8a8a8a" stroke-width="0.8"/>
<text class="xl" x="183.97" y="506.4">Čer 5</text>
<line x1="241.42" y1="495.7" x2="241.42" y2="497.3" stroke="#8a8a8a" stroke-width="0.8"/>
<text class="xl" x="241.12" y="506.4">Čer 19</text>
<line x1="298.57" y1="495.7" x2="298.57" y2="497.3" stroke="#8a8a8a" stroke-width="0.8"/>
<text class="xl" x="298.27" y="506.4">Čvc 3</text>
<line x1="350.01" y1="495.7" x2="350.01" y2="497.3" stroke="#8a8a8a" stroke-width="0.8"/>
<text class="xl" x="349.71" y="506.4">Čvc 17</text>
<line x1="407.16" y1="495.7" x2="407.16" y2="497.3" stroke="#8a8a8a" stroke-width="0.8"/>
<text class="xl" x="406.86" y="506.4">Čvc 31</text>
<line x1="464.31" y1="495.7" x2="464.31" y2="497.3" stroke="#8a8a8a" stroke-width="0.8"/>
<text class="xl" x="464.01" y="506.4">Srp 14</text>
<line x1="521.46" y1="495.7" x2="521.46" y2="497.3" stroke="#8a8a8a" stroke-width="0.8"/>
<text class="xl" x="521.16" y="506.4">Srp 28</text>
<line x1="572.89" y1="495.7" x2="572.89" y2="497.3" stroke="#8a8a8a" stroke-width="0.8"/>
<text class="xl" x="572.59" y="506.4">Zář 11</text>
<line x1="630.04" y1="495.7" x2="630.04" y2="497.3" stroke="#8a8a8a" stroke-width="0.8"/>
<text class="xl" x="629.74" y="506.4">Zář 25</text>
<line x1="687.19" y1="495.7" x2="687.19" y2="497.3" stroke="#8a8a8a" stroke-width="0.8"/>
<text class="xl" x="686.89" y="506.4">Říj 9</text>
<line x1="744.34" y1="495.7" x2="744.34" y2="497.3" stroke="#8a8a8a" stroke-width="0.8"/>
<text class="xl" x="744.04" y="506.4">Říj 23</text>
<line x1="801.49" y1="495.7" x2="801.49" y2="497.3" stroke="#8a8a8a" stroke-width="0.8"/>
<text class="xl" x="801.19" y="506.4">Lis 6</text>
<line x1="858.64" y1="495.7" x2="858.64" y2="497.3" stroke="#8a8a8a" stroke-width="0.8"/>
<text class="xl" x="858.34" y="506.4">Lis 20</text>
<line x1="910.08" y1="495.7" x2="910.08" y2="497.3" stroke="#8a8a8a" stroke-width="0.8"/>
<text class="xl" x="909.78" y="506.4">Pro 4</text>
<line x1="967.23" y1="495.7" x2="967.23" y2="497.3" stroke="#8a8a8a" stroke-width="0.8"/>
<text class="xl" x="966.93" y="506.4">Pro 18</text>
<text x="472.2" y="6.3" font-size="7.6px" font-weight="bold" fill="#333">×</text>
<text x="478" y="7.4" font-size="7.8px" fill="#3a3a3a" stroke="#3a3a3a" stroke-width="0.12" textLength="27.2" lengthAdjust="spacingAndGlyphs">06:02:08</text>
<rect x="896.7" y="473" width="84" height="10.8" fill="#dedede"/>
<text x="902.3" y="480.6" font-size="5.8px" font-weight="bold" fill="#1e1e1e">SPX@CBOE Zpožděný</text>
<circle cx="969.3" cy="479" r="1.7" fill="none" stroke="#444" stroke-width="0.7"/><circle cx="969.3" cy="479" r="0.5" fill="#444"/>
<circle cx="977.3" cy="479" r="2.9" fill="#a9c9de"/><path d="M977.3 476.1a2.9 2.9 0 0 0 0 5.8c-1.2-1.5 1-2 .3-3.2c-.7-1.1 1.1-1.7-.3-2.6z" fill="#1e2a3a"/>
<line x1="1023.4" y1="241" x2="1023.4" y2="257" stroke="#555" stroke-width="1.2" stroke-dasharray="1.6 2.2"/>
<path d="M992.4 502.3l.55 1.85 1.85 .55-1.85 .55-.55 1.85-.55-1.85-1.85-.55 1.85-.55z" fill="#6e6e6e"/>
</svg></body></html>
